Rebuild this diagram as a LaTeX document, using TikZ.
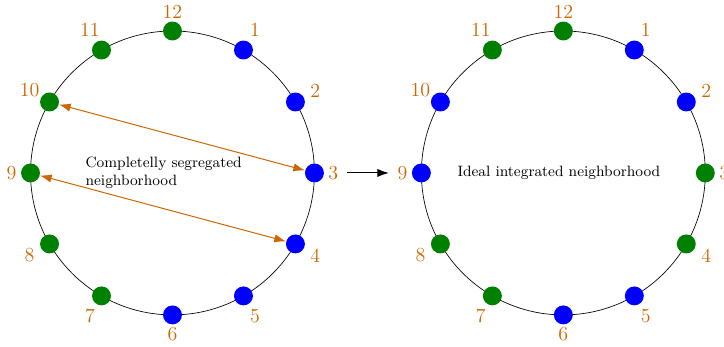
\documentclass[tikz,border=0pt]{standalone}
\usepackage{xcolor}
\usepackage{tikz}
\usetikzlibrary{arrows.meta, positioning, calc}
\definecolor{numorange}{RGB}{204,102,0}
\definecolor{housegreen}{RGB}{0,128,0}

\begin{document}
\begin{tikzpicture}[>={Latex[length=7pt, width=5pt]},
    house/.style={circle, fill=#1, minimum size=0.4cm, inner sep=0pt},
    number/.style={text=numorange, font=\large, inner sep=1pt},
    caption/.style={font=\small, align=left, anchor=west},
    swap/.style={<->, draw=numorange, semithick}]

    \useasboundingbox (-3.645,-3.676) rectangle (11.655,3.655);

    % Neighborhoods
    \coordinate (lc) at (0,0);
    \coordinate (rc) at (8.26,0);
    \draw (lc) circle (3cm);
    \draw (rc) circle (3cm);

    % Houses
    \foreach \i/\c in {1/blue, 2/blue, 3/blue, 4/blue, 5/blue, 6/blue,
        7/housegreen, 8/housegreen, 9/housegreen, 10/housegreen, 11/housegreen, 12/housegreen} {
        \node (l\i) [house=\c] at ($(lc)+({90-30*\i}:3cm)$) {};
        \node (ln\i) [number] at ($(lc)+({90-30*\i}:{3.40+0.1*abs(sin(60*\i))})$) {\i};
    }
    \foreach \i/\c in {1/blue, 2/blue, 3/housegreen, 4/housegreen, 5/blue, 6/blue,
        7/housegreen, 8/housegreen, 9/blue, 10/blue, 11/housegreen, 12/housegreen} {
        \node (r\i) [house=\c] at ($(rc)+({90-30*\i}:3cm)$) {};
        \node (rn\i) [number] at ($(rc)+({90-30*\i}:{3.40+0.1*abs(sin(60*\i))})$) {\i};
    }

    % Captions
    \node (seg) [caption] at ([xshift=-1.96cm]lc) {Completelly segregated\\neighborhood};
    \node (integ) [caption] at ([xshift=-2.36cm]rc) {Ideal integrated neighborhood};

    % Links
    \draw[swap] (l10) -- (l3);
    \draw[swap] (l9) -- (l4);
    \draw[->, semithick, shorten <=4pt, shorten >=4pt] (ln3) -- (rn9);
\end{tikzpicture}
\end{document}
